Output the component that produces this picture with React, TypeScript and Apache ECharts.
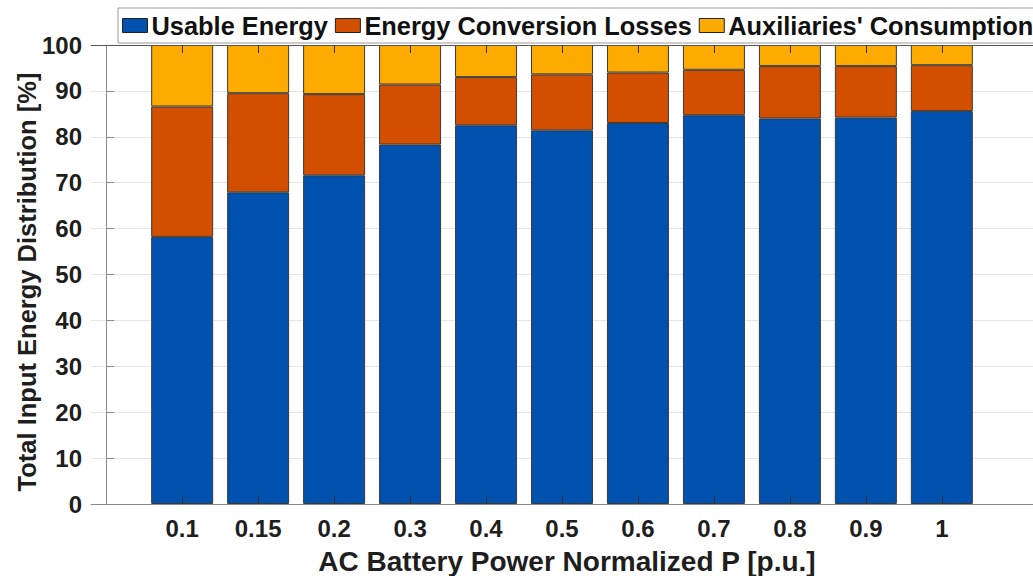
import React, { useEffect, useRef } from "react";
import * as echarts from "echarts";

const categories = ["0.1", "0.15", "0.2", "0.3", "0.4", "0.5", "0.6", "0.7", "0.8", "0.9", "1"];
const usableEnergy = [58.2, 67.9, 71.6, 78.3, 82.5, 81.4, 83.0, 84.7, 84.0, 84.2, 85.6];
const conversionLosses = [28.4, 21.6, 17.7, 13.1, 10.5, 12.2, 11.0, 9.9, 11.4, 11.2, 10.0];
const auxiliaries = [13.4, 10.5, 10.7, 8.6, 7.0, 6.4, 6.0, 5.4, 4.6, 4.6, 4.4];
const yTicks = [0, 10, 20, 30, 40, 50, 60, 70, 80, 90, 100];

const seriesNames = ["Usable Energy", "Energy Conversion Losses", "Auxiliaries' Consumption"];
const seriesColors = ["#0151AE", "#D34F00", "#FDAB00"];

export default function App() {
  const ref = useRef<HTMLDivElement>(null);

  useEffect(() => {
    document.body.style.margin = "0";
    if (!ref.current) return;
    const chart = echarts.init(ref.current, null, { renderer: "svg" });
    const positions = categories.map((_, i) => i + 1);
    // value first, position second, so that the stack runs along y
    const toPairs = (arr: number[]) => arr.map((v, i) => [v, positions[i]]);
    const font = "Liberation Sans, Arial, sans-serif";
    const textColor = "#1e1e1e";

    const xCommon = {
      type: "value" as const,
      min: -0.2,
      max: 12.2,
      splitLine: { show: false },
      z: 10,
    };

    const option: any = {
      animation: false,
      backgroundColor: "#ffffff",
      grid: { left: 91, right: -13, top: 45, bottom: 72, containLabel: false },
      legend: {
        left: 118,
        top: 8,
        width: 1200,
        orient: "horizontal",
        itemWidth: 25,
        itemHeight: 14,
        itemGap: 7,
        padding: [5, 4, 5, 4],
        backgroundColor: "#ffffff",
        borderColor: "#9a9a9a",
        borderWidth: 1,
        icon: "rect",
        itemStyle: { borderColor: "#222", borderWidth: 1 },
        textStyle: { fontFamily: font, fontWeight: "bold", fontSize: 25.4, color: "#111", padding: [0, 0, 0, -1] },
        data: seriesNames,
      },
      xAxis: [
        {
          ...xCommon,
          position: "bottom",
          axisLine: { show: true, lineStyle: { color: "#8a8a8a", width: 1 } },
          axisTick: { show: true, inside: true, length: 8, customValues: positions, lineStyle: { color: "#333", width: 1 } },
          axisLabel: {
            show: true,
            customValues: positions,
            margin: 12,
            fontFamily: font,
            fontWeight: "bold",
            fontSize: 24,
            color: textColor,
            formatter: (v: number) => categories[Math.round(v) - 1] ?? "",
          },
        },
        {
          ...xCommon,
          position: "top",
          axisLine: { show: true, lineStyle: { color: "#555", width: 1 } },
          axisTick: { show: true, inside: true, length: 8, customValues: positions, lineStyle: { color: "#333", width: 1 } },
          axisLabel: { show: false },
        },
      ],
      yAxis: {
        type: "value",
        min: 0,
        max: 100,
        interval: 10,
        axisLine: { show: true, lineStyle: { color: "#8a8a8a", width: 1 } },
        axisTick: { show: true, inside: true, length: 8, lineStyle: { color: "#8a8a8a" } },
        splitLine: { show: true, lineStyle: { color: "#e6e6e6", width: 1 } },
        axisLabel: {
          margin: 9,
          fontFamily: font,
          fontWeight: "bold",
          fontSize: 24,
          color: textColor,
          customValues: yTicks,
        },
      },
      series: [usableEnergy, conversionLosses, auxiliaries].map((arr, k) => ({
        name: seriesNames[k],
        type: "bar",
        stack: "total",
        barWidth: 62,
        xAxisIndex: 0,
        encode: { x: 1, y: 0 },
        data: toPairs(arr),
        itemStyle: { color: seriesColors[k], borderColor: "#3a3a3a", borderWidth: 1 },
        emphasis: { disabled: true },
      })),
      graphic: [
        {
          type: "text",
          x: 27,
          y: 282,
          rotation: Math.PI / 2,
          style: {
            text: "Total Input Energy Distribution [%]",
            fontFamily: font,
            fontWeight: "bold",
            fontSize: 25.5,
            fill: textColor,
            align: "center",
            verticalAlign: "middle",
          },
        },
        {
          type: "text",
          x: 567,
          y: 561,
          style: {
            text: "AC Battery Power Normalized P [p.u.]",
            fontFamily: font,
            fontWeight: "bold",
            fontSize: 28,
            fill: textColor,
            align: "center",
            verticalAlign: "middle",
          },
        },
      ],
    };
    chart.setOption(option);
    return () => chart.dispose();
  }, []);

  return <div ref={ref} style={{ width: 1033, height: 576 }} />;
}
